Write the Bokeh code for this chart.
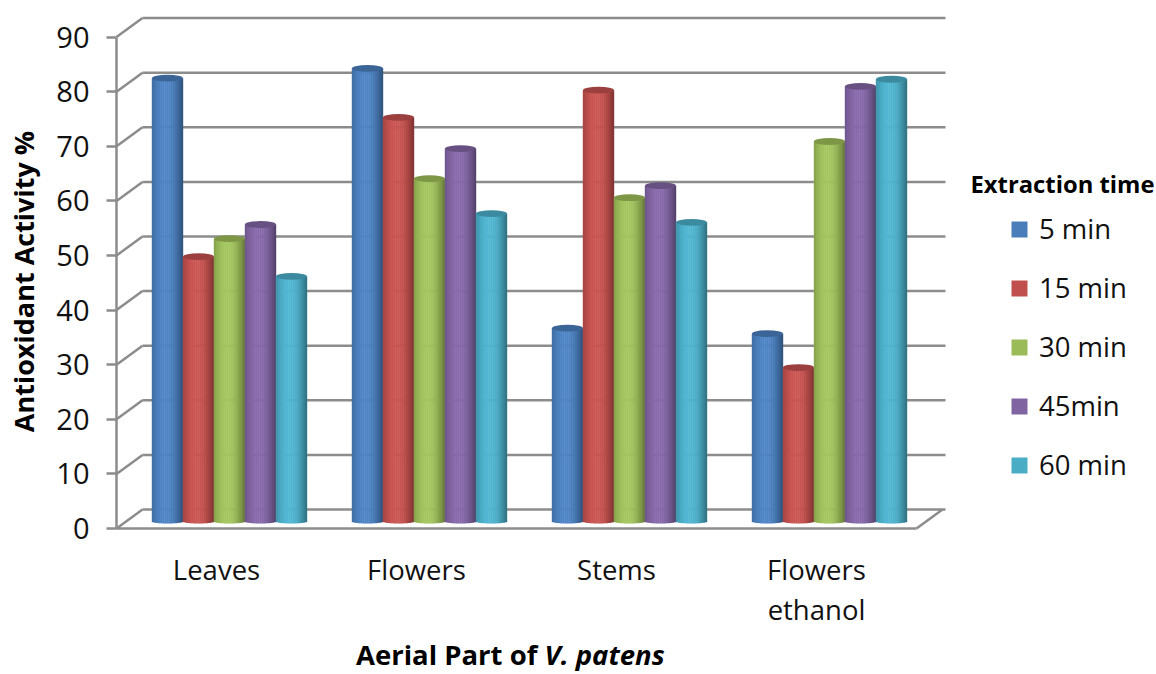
from bokeh.plotting import figure
from bokeh.models import Range1d, FixedTicker, Label, Legend, LegendItem, ColumnDataSource
from bokeh.embed import file_html
from bokeh.resources import INLINE
import numpy as np

categories = ["Leaves", "Flowers", "Stems", "Flowers\nethanol"]
series = ["5 min", "15 min", "30 min", "45min", "60 min"]
v5 = [81.2, 83.0, 35.4, 34.4]
v15 = [48.5, 74.0, 79.0, 28.2]
v30 = [51.8, 62.8, 59.3, 69.6]
v45 = [54.4, 68.3, 61.5, 79.7]
v60 = [44.9, 56.4, 54.8, 81.0]
values = [v5, v15, v30, v45, v60]
colors = ["#4A7EBB", "#C0504D", "#9BBB59", "#8064A2", "#4BACC6"]
yticks = list(range(0, 100, 10))

# layout constants (page pixels)
W, H = 1156, 674
X0, Y0 = 116, 528          # origin of the front axes
PX_X = 200.0               # pixels per category
PX_Y = 5.46                # pixels per value unit
DX, DY = 26 / PX_X, 19 / PX_Y   # depth of back wall
GRID = "#8C8C8C"
FONT = "Open Sans"

def xp(px): return (px - X0) / PX_X
def yp(py): return (Y0 - py) / PX_Y

p = figure(width=W, height=H, output_backend="svg", toolbar_location=None,
           x_range=Range1d(xp(0), xp(W)), y_range=Range1d(yp(H), yp(0)),
           min_border_left=0, min_border_right=0, min_border_top=0, min_border_bottom=0)
p.outline_line_color = None
p.grid.visible = False
p.background_fill_color = "white"

# y axis
ya = p.yaxis[0]
ya.fixed_location = 0
ya.ticker = FixedTicker(ticks=yticks)
ya.bounds = (0, 90)
ya.axis_line_color = GRID
ya.axis_line_width = 2.5
ya.major_tick_line_color = GRID
ya.major_tick_line_width = 2.5
ya.major_tick_out = 10
ya.major_tick_in = 0
ya.minor_tick_line_color = None
ya.major_label_text_font = FONT
ya.major_label_text_font_size = "29px"
ya.major_label_text_color = "#111111"
ya.major_label_standoff = 17

# x axis
xa = p.xaxis[0]
xa.fixed_location = 0
centers = [i + 0.5 for i in range(len(categories))]
xa.ticker = FixedTicker(ticks=centers)
xa.major_label_overrides = {c: t for c, t in zip(centers, categories)}
xa.bounds = (0, 4)
xa.axis_line_color = GRID
xa.axis_line_width = 2.5
xa.major_tick_line_color = None
xa.minor_tick_line_color = None
xa.major_label_text_font = FONT
xa.major_label_text_font_size = "27.5px"
xa.major_label_text_color = "#111111"
xa.major_label_text_line_height = 1.09
xa.major_label_standoff = 16

# walls: back gridlines, slanted joins, floor
ticks = np.array(yticks, dtype=float)
p.segment(x0=[DX] * len(ticks), y0=ticks + DY, x1=[xp(945)] * len(ticks), y1=ticks + DY,
          line_color=GRID, line_width=2.5)
p.segment(x0=[0] * len(ticks), y0=ticks, x1=[DX] * len(ticks), y1=ticks + DY,
          line_color=GRID, line_width=2.5)
p.segment(x0=[4], y0=[0], x1=[4 + DX], y1=[DY], line_color=GRID, line_width=2.5)

# cylinders built from narrow shaded strips
BAR = 31 / PX_X
LIFT = 7 / PX_Y
OFFSET = 13 / PX_X
ELL = 4 / PX_Y
N = 15
def shade(hex_c, t):
    c = np.array([int(hex_c[i:i + 2], 16) for i in (1, 3, 5)], dtype=float)
    d = abs(t - 0.42) / 0.58
    f = 1.06 - 0.42 * d ** 2.2
    c = np.clip(c * f, 0, 255).astype(int)
    return "#%02x%02x%02x" % tuple(c)

for s, (vals, col) in enumerate(zip(values, colors)):
    vals = np.array(vals)
    cx = np.array(centers) + OFFSET + (s - 2) * BAR
    for k in range(N):
        t = (k + 0.5) / N
        u = 2 * t - 1
        bottom = LIFT - 0.5 * ELL * np.sqrt(1 - u ** 2)
        p.vbar(x=cx - BAR / 2 + BAR * t, width=BAR / N * 1.2, top=vals + LIFT,
               bottom=bottom, fill_color=shade(col, t), line_color=None)
    p.ellipse(x=cx, y=vals + LIFT, width=BAR, height=2 * ELL * 0.85,
              fill_color=shade(col, 0.88), line_color=None)

# legend proxies
nan = float("nan")
proxy = ColumnDataSource(dict(l=[nan], r=[nan], t=[nan], b=[nan]))
items = []
for name, col in zip(series, colors):
    r = p.quad(left="l", right="r", top="t", bottom="b", source=proxy,
               fill_color=col, line_color=None)
    items.append(LegendItem(label=name, renderers=[r]))
leg = Legend(items=items, location=(1009, 191), orientation="vertical",
             border_line_color=None, background_fill_alpha=0,
             glyph_width=20, glyph_height=20, spacing=22, padding=8,
             label_text_font=FONT, label_text_font_size="27.5px",
             label_text_color="#111111", label_standoff=10)
p.add_layout(leg, "center")

def lab(x, y, text, size, style, align="left", angle=0):
    p.add_layout(Label(x=xp(x), y=yp(y), text=text, text_font=FONT,
                       text_font_size=size, text_font_style=style, angle=angle,
                       text_align=align, text_baseline="middle", text_color="#000000"))

lab(970, 183, "Extraction time", "23.8px", "bold")
lab(544, 654, "Aerial Part of ", "27.5px", "bold", "right")
lab(544, 654, "V. patens", "27.5px", "bold italic")
lab(23, 281, "Antioxidant Activity %", "27px", "bold", "center", np.pi / 2)

open("out.html", "w").write(file_html(p, INLINE))
